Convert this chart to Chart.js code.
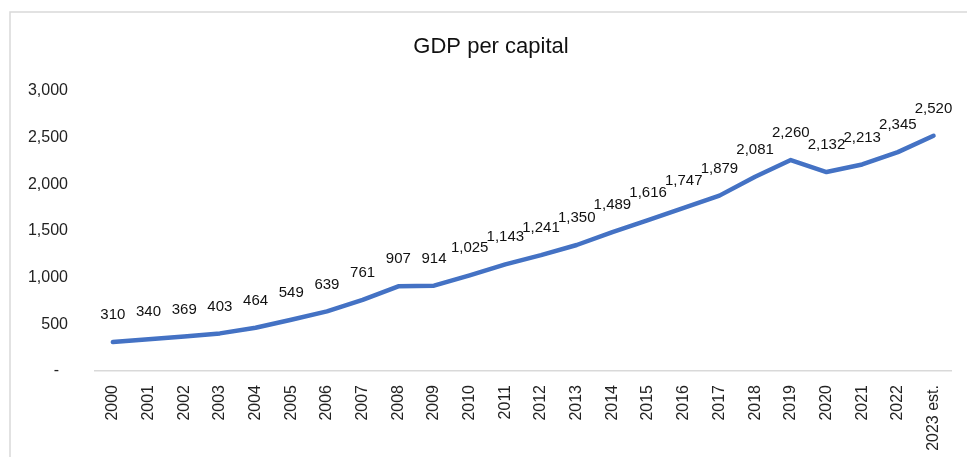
<!DOCTYPE html>
<html lang="en">
<head>
    <meta charset="UTF-8">
    <title>GDP per capital</title>
    <style>
        html, body {
            margin: 0;
            padding: 0;
            background-color: #fff;
        }
        .wrap {
            position: relative;
            width: 967px;
            height: 457px;
        }
    </style>
    <script src="https://cdn.jsdelivr.net/npm/chart.js"></script>
</head>
<body>
    <div class="wrap">
        <canvas id="gdpChart" width="967" height="457"></canvas>
    </div>

    <script>
        // data
        const years = ['2000', '2001', '2002', '2003', '2004', '2005', '2006', '2007',
            '2008', '2009', '2010', '2011', '2012', '2013', '2014', '2015',
            '2016', '2017', '2018', '2019', '2020', '2021', '2022', '2023 est.'];
        const gdpValues = [310, 340, 369, 403, 464, 549, 639, 761,
            907, 914, 1025, 1143, 1241, 1350, 1489, 1616,
            1747, 1879, 2081, 2260, 2132, 2213, 2345, 2520];
        const yTicks = [0, 500, 1000, 1500, 2000, 2500, 3000];

        const fmt = v => v.toLocaleString('en-US');

        // white background + the light frame at top / left
        const framePlugin = {
            id: 'frame',
            beforeDraw(chart) {
                const c = chart.ctx;
                c.save();
                c.fillStyle = '#fff';
                c.fillRect(0, 0, chart.width, chart.height);
                c.strokeStyle = '#d9d9d9';
                c.lineWidth = 1.5;
                c.beginPath();
                c.moveTo(10, chart.height);
                c.lineTo(10, 12);
                c.lineTo(chart.width, 12);
                c.stroke();
                c.restore();
            }
        };

        // value labels above each point
        const valueLabels = {
            id: 'valueLabels',
            afterDatasetsDraw(chart) {
                const c = chart.ctx;
                const meta = chart.getDatasetMeta(0);
                c.save();
                c.font = '15px "Liberation Sans Narrow", "Liberation Sans", sans-serif';
                c.fillStyle = '#111';
                c.textAlign = 'center';
                c.textBaseline = 'middle';
                meta.data.forEach((pt, i) => {
                    c.fillText(fmt(gdpValues[i]), pt.x, pt.y - 27);
                });
                c.restore();
            }
        };

        const ctx = document.getElementById('gdpChart').getContext('2d');
        new Chart(ctx, {
            type: 'line',
            data: {
                labels: years,
                datasets: [{
                    data: gdpValues,
                    borderColor: '#4472C4',
                    borderWidth: 4.5,
                    borderCapStyle: 'round',
                    borderJoinStyle: 'round',
                    pointRadius: 0,
                    pointHoverRadius: 0,
                    tension: 0,
                    fill: false
                }]
            },
            options: {
                responsive: false,
                animation: false,
                layout: {
                    padding: { left: 28, right: 13, top: 0, bottom: 5 }
                },
                plugins: {
                    legend: { display: false },
                    tooltip: { enabled: false },
                    title: {
                        display: true,
                        text: 'GDP per capital',
                        color: '#111',
                        font: { family: '"Liberation Sans", Arial, sans-serif', size: 22, weight: 'normal', lineHeight: 1.2 },
                        padding: { top: 34, bottom: 30.6 }
                    }
                },
                scales: {
                    x: {
                        offset: true,
                        grid: { display: false, drawTicks: false },
                        border: { display: true, color: '#d9d9d9', width: 1.5 },
                        ticks: {
                            minRotation: 90,
                            maxRotation: 90,
                            padding: 14,
                            color: '#222',
                            font: { family: '"Liberation Sans", Arial, sans-serif', size: 16 }
                        },
                        afterFit(axis) {
                            axis.height = 81;
                        }
                    },
                    y: {
                        min: 0,
                        max: 3000,
                        afterBuildTicks(axis) {
                            axis.ticks = yTicks.map(v => ({ value: v }));
                        },
                        grid: { display: false, drawTicks: false },
                        border: { display: false },
                        ticks: {
                            padding: 27,
                            color: '#222',
                            font: { family: '"Liberation Sans", Arial, sans-serif', size: 16 },
                            callback: v => (v === 0 ? '-  ' : fmt(v))
                        },
                        afterFit(axis) {
                            axis.width = 67;
                        }
                    }
                }
            },
            plugins: [framePlugin, valueLabels]
        });
    </script>
</body>
</html>
